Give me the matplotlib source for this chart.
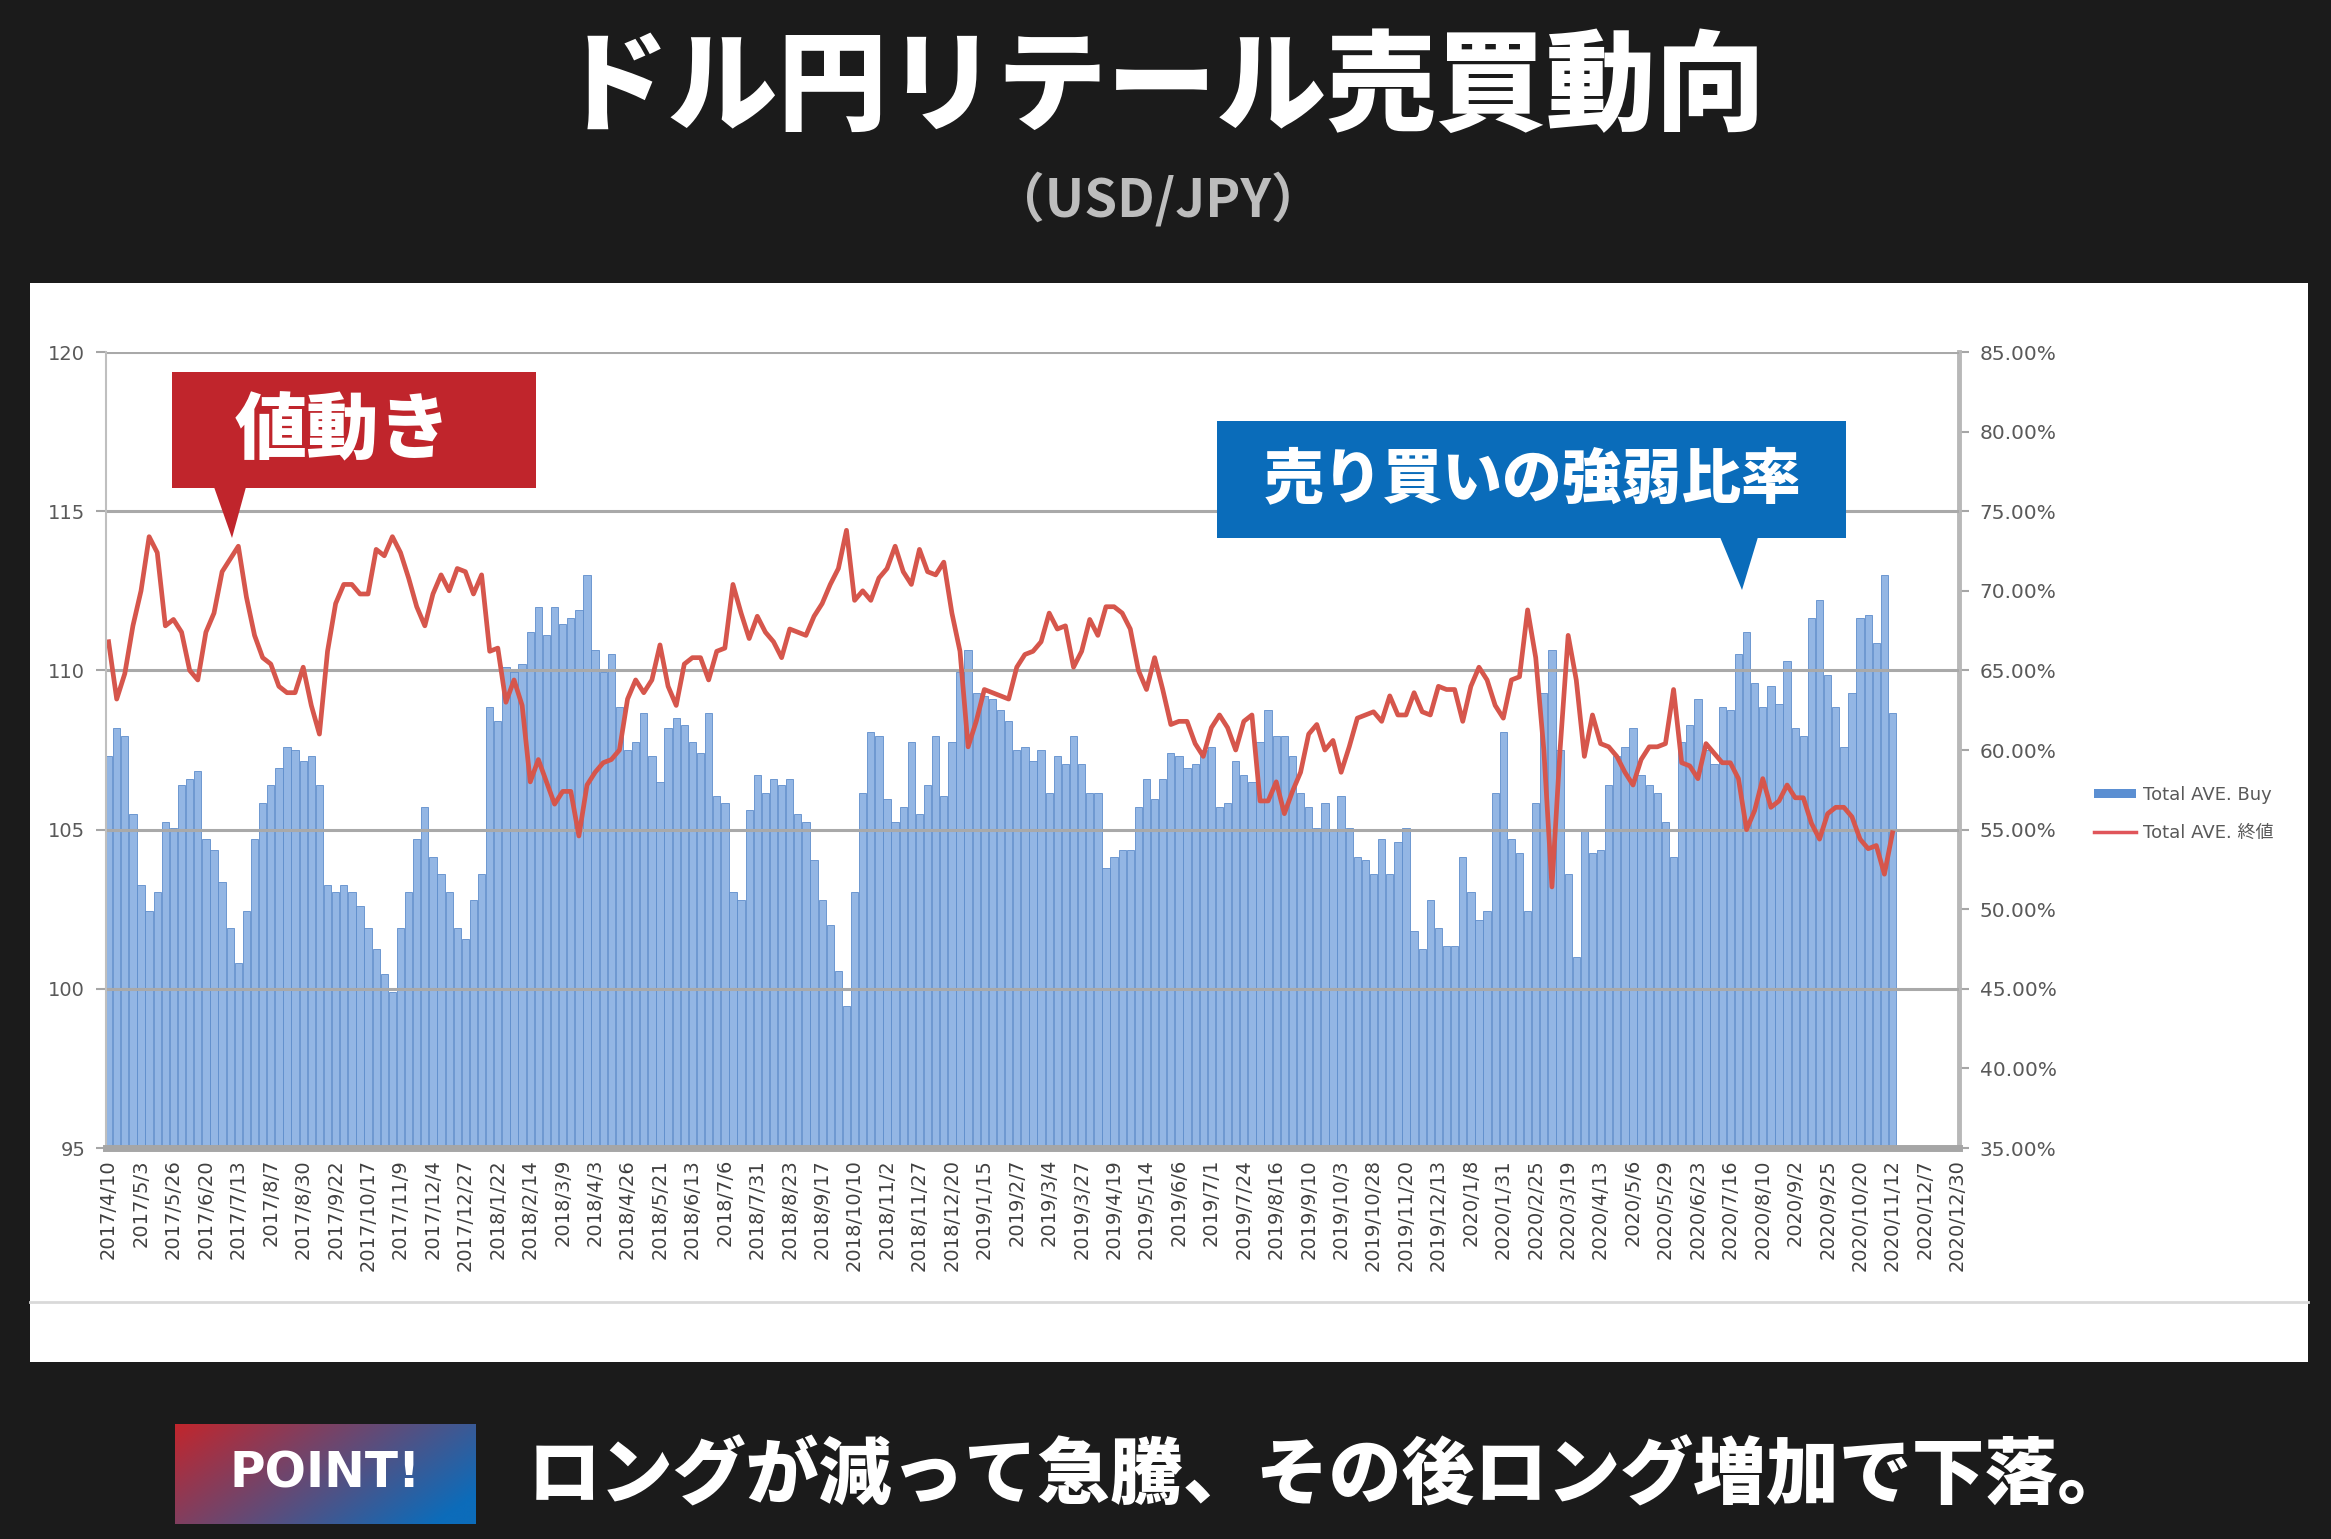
import numpy as np
import matplotlib
matplotlib.use("Agg")
import matplotlib.pyplot as plt
from matplotlib.patches import Rectangle, Polygon, Patch
from matplotlib.lines import Line2D
from matplotlib.ticker import FuncFormatter

# ---------------- data ----------------
tick_labels = [
    "2017/4/10", "2017/5/3", "2017/5/26", "2017/6/20", "2017/7/13", "2017/8/7", "2017/8/30",
    "2017/9/22", "2017/10/17", "2017/11/9", "2017/12/4", "2017/12/27",
    "2018/1/22", "2018/2/14", "2018/3/9", "2018/4/3", "2018/4/26", "2018/5/21", "2018/6/13",
    "2018/7/6", "2018/7/31", "2018/8/23", "2018/9/17", "2018/10/10", "2018/11/2", "2018/11/27",
    "2018/12/20",
    "2019/1/15", "2019/2/7", "2019/3/4", "2019/3/27", "2019/4/19", "2019/5/14", "2019/6/6",
    "2019/7/1", "2019/7/24", "2019/8/16", "2019/9/10", "2019/10/3", "2019/10/28", "2019/11/20",
    "2019/12/13",
    "2020/1/8", "2020/1/31", "2020/2/25", "2020/3/19", "2020/4/13", "2020/5/6", "2020/5/29",
    "2020/6/23", "2020/7/16", "2020/8/10", "2020/9/2", "2020/9/25", "2020/10/20", "2020/11/12",
    "2020/12/7", "2020/12/30",
]
SAMPLES_PER_LABEL = 4   # readings per tick interval

# USD/JPY close (left axis)
price = [
    110.9, 109.1, 109.9, 111.4, 112.5, 114.2, 113.7, 111.4, 111.6, 111.2, 110.0, 109.7,
    111.2, 111.8, 113.1, 113.5, 113.9, 112.3, 111.1, 110.4, 110.2, 109.5, 109.3, 109.3,
    110.1, 108.9, 108.0, 110.6, 112.1, 112.7, 112.7, 112.4, 112.4, 113.8, 113.6, 114.2,
    113.7, 112.9, 112.0, 111.4, 112.4, 113.0, 112.5, 113.2, 113.1, 112.4, 113.0, 110.6,
    110.7, 109.0, 109.7, 108.9, 106.5, 107.2, 106.5, 105.8, 106.2,
    106.2, 104.8, 106.4, 106.8, 107.1, 107.2, 107.5, 109.1, 109.7, 109.3, 109.7, 110.8,
    109.5, 108.9, 110.2, 110.4, 110.4, 109.7, 110.6, 110.7, 112.7, 111.8, 111.0, 111.7,
    111.2, 110.9, 110.4, 111.3, 111.2, 111.1, 111.7, 112.1, 112.7, 113.2, 114.4, 112.2,
    112.5, 112.2, 112.9, 113.2, 113.9, 113.1, 112.7, 113.8, 113.1, 113.0, 113.4, 111.8,
    110.6, 107.6, 108.4, 109.4, 109.3, 109.2, 109.1, 110.1,
    110.5, 110.6, 110.9, 111.8, 111.3, 111.4, 110.1, 110.6, 111.6, 111.1, 112.0, 112.0,
    111.8, 111.3, 110.0, 109.4, 110.4, 109.4, 108.3, 108.4, 108.4, 107.7, 107.3, 108.2,
    108.6, 108.2, 107.5, 108.4, 108.6, 105.9, 105.9, 106.5, 105.5, 106.2, 106.8, 108.0,
    108.3, 107.5, 107.8, 106.8, 107.6, 108.5, 108.6, 108.7, 108.4, 109.2, 108.6, 108.6,
    109.3, 108.7, 108.6, 109.5, 109.4, 109.4, 108.4, 109.5,
    110.1, 109.7, 108.9, 108.5, 109.7, 109.8, 111.9, 110.4, 107.5, 103.2, 107.5, 111.1,
    109.7, 107.3, 108.6, 107.7, 107.6, 107.3, 106.8, 106.4, 107.2, 107.6, 107.6, 107.7,
    109.4, 107.1, 107.0, 106.6, 107.7, 107.4, 107.1, 107.1, 106.6, 105.0, 105.6, 106.6,
    105.7, 105.9, 106.4, 106.0, 106.0, 105.2, 104.7, 105.5, 105.7, 105.7, 105.4, 104.7,
    104.4, 104.5, 103.6, 104.9,
]

# Retail buy ratio in % (right axis)
buy = [
    59.6, 61.4, 60.9, 56.0, 51.5, 49.9, 51.1, 55.5, 55.1, 57.8, 58.2, 58.7,
    54.4, 53.7, 51.7, 48.8, 46.6, 49.9, 54.4, 56.7, 57.8, 58.9, 60.2, 60.0,
    59.3, 59.6, 57.8, 51.5, 51.1, 51.5, 51.1, 50.2, 48.8, 47.5, 45.9, 44.8,
    48.8, 51.1, 54.4, 56.4, 53.3, 52.2, 51.1, 48.8, 48.1, 50.6, 52.2, 62.7,
    61.8, 65.2, 64.9, 65.4, 67.4, 69.0, 67.2, 69.0, 67.9,
    68.3, 68.8, 71.0, 66.3, 64.9, 66.0, 62.7, 60.0, 60.5, 62.3, 59.6, 58.0,
    61.4, 62.0, 61.6, 60.5, 59.8, 62.3, 57.1, 56.7, 51.1, 50.6, 56.2, 58.4,
    57.3, 58.2, 57.8, 58.2, 56.0, 55.5, 53.1, 50.6, 49.0, 46.1, 43.9, 51.1,
    57.3, 61.1, 60.9, 56.9, 55.5, 56.4, 60.5, 56.0, 57.8, 60.9, 57.1, 60.5,
    64.9, 66.3, 63.6, 63.4, 63.2, 62.5, 61.8, 60.0,
    60.2, 59.3, 60.0, 57.3, 59.6, 59.1, 60.9, 59.1, 57.3, 57.3, 52.6, 53.3,
    53.7, 53.7, 56.4, 58.2, 56.9, 58.2, 59.8, 59.6, 58.9, 59.1, 60.0, 60.2,
    56.4, 56.7, 59.3, 58.4, 58.0, 60.5, 62.5, 60.9, 60.9, 59.6, 57.3, 56.4,
    55.1, 56.7, 54.9, 57.1, 55.1, 53.3, 53.1, 52.2, 54.4, 52.2, 54.2, 55.1,
    48.6, 47.5, 50.6, 48.8, 47.7, 47.7, 53.3, 51.1,
    49.3, 49.9, 57.3, 61.1, 54.4, 53.5, 49.9, 56.7, 63.6, 66.3, 60.0, 52.2,
    47.0, 54.9, 53.5, 53.7, 57.8, 59.6, 60.2, 61.4, 58.4, 57.8, 57.3, 55.5,
    53.3, 60.5, 61.6, 63.2, 60.0, 59.1, 62.7, 62.5, 66.0, 67.4, 64.2, 62.7,
    64.0, 62.9, 65.6, 61.4, 60.9, 68.3, 69.4, 64.7, 62.7, 60.2, 63.6, 68.3,
    68.5, 66.7, 71.0, 62.3,
]

title = "ドル円リテール売買動向"
subtitle = "（USD/JPY）"
note_price = "値動き"
note_ratio = "売り買いの強弱比率"
point_label = "POINT!"
point_text = "ロングが減って急騰、その後ロング増加で下落。"
legend_labels = ["Total AVE. Buy", "Total AVE. 終値"]

# ---------------- style ----------------
W, H = 2331, 1539
BG = "#1b1b1b"
RED_BOX = "#c0252c"
BLUE_BOX = "#0a6cba"
BAR_FACE = "#93b6e4"
BAR_EDGE = "#5e8dcb"
LINE_RED = "#d6564c"
TICK_GRAY = "#595959"
JP = ["Noto Sans CJK JP", "DejaVu Sans"]

plt.rcParams["font.family"] = ["DejaVu Sans", "Noto Sans CJK JP"]


def fx(px):
    return px / W


def fy(py):
    return 1 - py / H


fig = plt.figure(figsize=(W / 100, H / 100), dpi=100, facecolor=BG)

# white chart panel
fig.add_artist(Rectangle((fx(30), fy(1362)), fx(2308) - fx(30), fy(283) - fy(1362),
                         transform=fig.transFigure, fc="white", ec="none", zorder=-2))
fig.add_artist(Line2D([fx(30), fx(2308)], [fy(1302), fy(1302)], transform=fig.transFigure,
                      color="#d9d9d9", lw=2, zorder=-1))

# titles
fig.text(fx(1162), fy(90), title, color="white", fontsize=79, fontweight="heavy",
         family=JP, ha="center", va="center")
fig.text(fx(1158), fy(200), subtitle, color="#bdbdbd", fontsize=38, fontweight="bold",
         family=JP, ha="center", va="center")

# ---------------- axes ----------------
ax = fig.add_axes([fx(106), fy(1148), fx(1959) - fx(106), fy(352) - fy(1148)])
ax2 = ax.twinx()
ax.set_zorder(ax2.get_zorder() + 1)
ax.patch.set_visible(False)
ax2.patch.set_facecolor("white")

x = np.arange(len(price)) / SAMPLES_PER_LABEL
ax2.bar(x, buy, width=0.9 / SAMPLES_PER_LABEL, color=BAR_FACE, edgecolor=BAR_EDGE,
        linewidth=0.6)
ax.plot(x, price, color=LINE_RED, lw=3.4, solid_joinstyle="round")

ax.set_xlim(-0.08, len(tick_labels) - 1 + 0.05)
ax.set_ylim(95, 120)
ax.set_yticks(np.arange(95, 121, 5))
ax2.set_ylim(35, 85)
ax2.set_yticks(np.arange(35, 86, 5))
ax2.yaxis.set_major_formatter(FuncFormatter(lambda v, p: f"{v:.2f}%"))

ax.set_xticks(np.arange(len(tick_labels)))
ax.set_xticklabels(tick_labels, rotation=90, fontsize=14, color="#404040")
ax.tick_params(axis="x", length=0, pad=8)
ax.tick_params(axis="y", labelsize=14, labelcolor=TICK_GRAY, color="#a6a6a6",
               length=7, width=1.5, pad=8)
ax2.tick_params(axis="y", labelsize=14.5, labelcolor=TICK_GRAY, color="#a6a6a6",
                length=7, width=1.5, pad=8)

ax.grid(axis="y", color="#a9a9a9", lw=2.2)
ax.set_axisbelow(True)

for s in ["top", "right"]:
    ax.spines[s].set_visible(False)
ax.spines["left"].set_color("#bfbfbf")
ax.spines["left"].set_linewidth(1.5)
ax.spines["bottom"].set_color("#a6a6a6")
ax.spines["bottom"].set_linewidth(5)
for s in ["top", "left", "bottom"]:
    ax2.spines[s].set_visible(False)
ax2.spines["right"].set_color("#b8b8b8")
ax2.spines["right"].set_linewidth(3.5)

# legend
handles = [Patch(facecolor="#5b8fd2", edgecolor="none"),
           Line2D([], [], color="#e0555a", lw=2.5)]
leg = fig.legend(handles, legend_labels, loc="center left",
                 bbox_to_anchor=(fx(2078), fy(814)), frameon=False, fontsize=13,
                 labelcolor=TICK_GRAY, handlelength=2.3, handleheight=0.45,
                 handletextpad=0.4, labelspacing=1.1)

# ---------------- callouts ----------------
fig.add_artist(Rectangle((fx(172), fy(488)), fx(536) - fx(172), fy(372) - fy(488),
                         transform=fig.transFigure, fc=RED_BOX, ec="none", zorder=10))
fig.add_artist(Polygon([(fx(214), fy(487)), (fx(246), fy(487)), (fx(232), fy(538))],
                       closed=True, transform=fig.transFigure, fc=RED_BOX, ec="none", zorder=10))
fig.text(fx(343), fy(432), note_price, color="white", fontsize=52, fontweight="heavy",
         family=JP, ha="center", va="center", zorder=11)

fig.add_artist(Rectangle((fx(1217), fy(538)), fx(1846) - fx(1217), fy(421) - fy(538),
                         transform=fig.transFigure, fc=BLUE_BOX, ec="none", zorder=10))
fig.add_artist(Polygon([(fx(1720), fy(537)), (fx(1758), fy(537)), (fx(1742), fy(590))],
                       closed=True, transform=fig.transFigure, fc=BLUE_BOX, ec="none", zorder=10))
fig.text(fx(1533), fy(479), note_ratio, color="white", fontsize=43, fontweight="heavy",
         family=JP, ha="center", va="center", zorder=11)

# ---------------- bottom point ----------------
axp = fig.add_axes([fx(175), fy(1524), fx(476) - fx(175), fy(1424) - fy(1524)])
gx, gy = np.meshgrid(np.linspace(0, 1, 200), np.linspace(0, 1, 60))
t = np.clip(0.75 * gx + 0.35 * gy, 0, 1)[..., None]
c0 = np.array([193, 38, 45]) / 255
c1 = np.array([12, 108, 186]) / 255
axp.imshow(c0 * (1 - t) + c1 * t, aspect="auto", extent=(0, 1, 0, 1), origin="upper")
axp.set_axis_off()
axp.text(0.5, 0.5, point_label, color="white", fontsize=35, fontweight="bold",
         ha="center", va="center", transform=axp.transAxes)

fig.text(fx(528), fy(1476), point_text, color="white", fontsize=52.5, fontweight="heavy",
         family=JP, ha="left", va="center")

fig.savefig("out.png", dpi=100, facecolor=BG)
